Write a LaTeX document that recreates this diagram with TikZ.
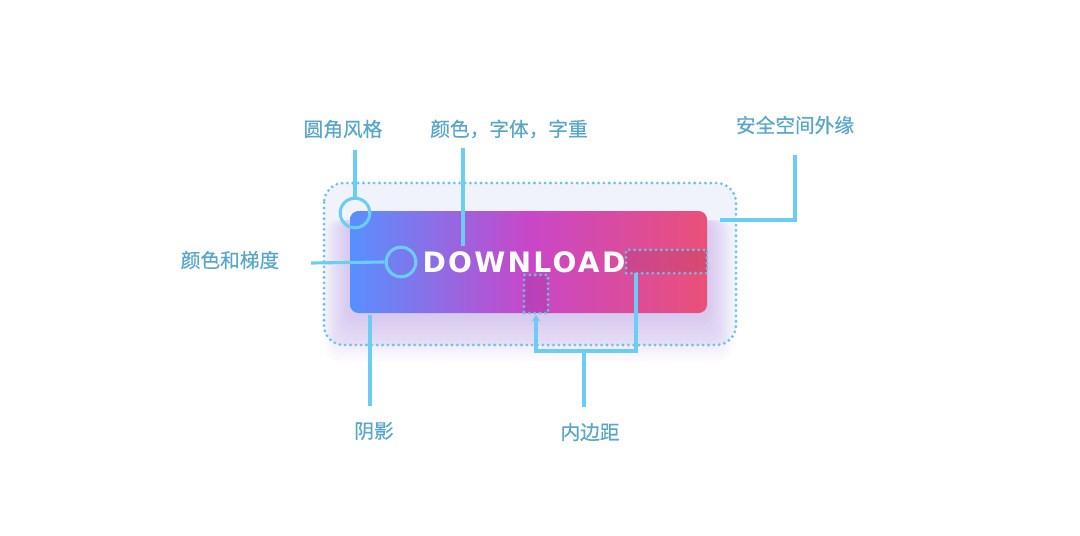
\documentclass[tikz,border=0pt]{standalone}
\usepackage{fontspec}
\setmainfont{Noto Sans CJK SC}
\newfontfamily\lblfont[FakeBold=0.4]{Noto Sans CJK SC}
\newfontfamily\btnfont[LetterSpace=8]{DejaVu Sans}
\usetikzlibrary{arrows.meta}

\definecolor{callout}{HTML}{6BCDF5}
\definecolor{labeltext}{HTML}{5AA6C8}
\definecolor{dotblue}{HTML}{6DBFE8}
\definecolor{safefill}{HTML}{F0F3FB}
\definecolor{glow}{HTML}{B07CE0}
\definecolor{btnblue}{HTML}{5790FF}
\definecolor{btnmagenta}{HTML}{C847C8}
\definecolor{btnred}{HTML}{EA5078}

\begin{document}
\begin{tikzpicture}[x=0.025cm,y=-0.025cm,
  callline/.style={draw=callout,line width=2.2pt},
  ring/.style={circle,draw=callout,line width=2.2pt,minimum size=0.74cm,inner sep=0pt},
  lbl/.style={text=labeltext,font=\lblfont\fontsize{14}{16}\selectfont,inner sep=0pt},
  dotbox/.style={draw=dotblue,line width=2.2pt,dash pattern=on 0pt off 3.8pt,line cap=round,inner sep=0pt}]
  \useasboundingbox (0,0) rectangle (1080,535);
  \fill[white] (0,0) rectangle (1080,535);

  % safe area
  \fill[safefill,rounded corners=14pt] (324,183) rectangle (736,345);

  % shadow under the button
  \foreach \i in {1,...,12}
    \fill[glow,opacity=0.03,rounded corners=8pt] (350-\i*2,220) rectangle (707+\i*2,313+\i*4);

  % button
  \shade[rounded corners=6pt,left color=btnblue,right color=btnred,middle color=btnmagenta]
    (350,211) rectangle (707,313);
  \draw[dotbox,rounded corners=14pt] (324,183) rectangle (736,345);

  % padding boxes
  \node[dotbox,fill=black,fill opacity=0.07,minimum width=0.6cm,minimum height=0.95cm] (vpad) at (536,294) {};
  \node[dotbox,fill=black,fill opacity=0.07,minimum width=2.02cm,minimum height=0.58cm] (hpad) at (666.5,261.5) {};

  \node[text=white,font=\btnfont\bfseries\fontsize{20}{24}\selectfont,inner sep=0pt] (download) at (524,262) {DOWNLOAD};

  % labels
  \node[lbl] (cornerlbl) at (343,129) {圆角风格};
  \node[lbl] (fontlbl) at (509,129) {颜色，字体，字重};
  \node[lbl] (safelbl) at (795,125) {安全空间外缘};
  \node[lbl] (gradlbl) at (230,260) {颜色和梯度};
  \node[lbl] (shadowlbl) at (374,431) {阴影};
  \node[lbl] (padlbl) at (590,432) {内边距};

  \node[ring] (cornerring) at (355,213) {};
  \node[ring] (gradring) at (401,262) {};

  \coordinate (cornertop) at (355,150);
  \coordinate (fonttop) at (463,148);
  \coordinate (fontend) at (463,246);
  \coordinate (safetop) at (795,155);
  \coordinate (safeend) at (720,220);
  \coordinate (gradstart) at (311,263);
  \coordinate (shadowtop) at (370,315);
  \coordinate (shadowend) at (370,406);
  \coordinate (padfoot) at (584,407);
  \coordinate (padjoin) at (584,351);
  \coordinate (padright) at (636,273);

  % connectors
  \draw[callline] (cornertop) -- (cornerring.north);
  \draw[callline] (fonttop) -- (fontend);
  \draw[callline] (safetop) |- (safeend);
  \draw[callline] (gradstart) -- (gradring.west);
  \draw[callline] (shadowtop) -- (shadowend);
  \draw[callline] (padfoot) -- (padjoin);
  \draw[callline,{Stealth[length=5pt,width=6pt]}-] (vpad.south) -- (vpad.south |- padjoin) -- (padright |- padjoin) -- (padright);
\end{tikzpicture}
\end{document}
